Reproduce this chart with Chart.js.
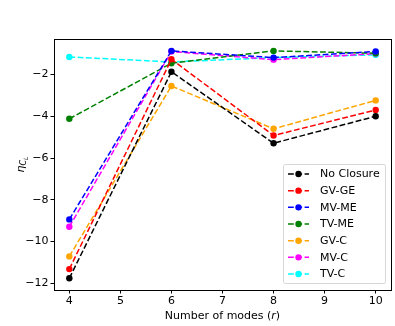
<!DOCTYPE html>
<html>
<head>
<meta charset="utf-8">
<script src="https://cdn.jsdelivr.net/npm/chart.js@4/dist/chart.umd.min.js"></script>
<style>
  html, body { margin: 0; padding: 0; background: #fff; }
  #wrap { width: 395px; height: 326px; }
</style>
</head>
<body>
<div id="wrap"><canvas id="chart" width="395" height="326"></canvas></div>
<script>
// データ
const modes = [4, 6, 8, 10];
const xTicks = [4, 5, 6, 7, 8, 9, 10];
const yTicks = [-12, -10, -8, -6, -4, -2];

const seriesNames = ['No Closure', 'GV-GE', 'MV-ME', 'TV-ME', 'GV-C', 'MV-C', 'TV-C'];
const seriesColors = ['#000000', '#ff0000', '#0000ff', '#008000', '#ffa500', '#ff00ff', '#00ffff'];

const noClosure = [-11.76, -1.87, -5.29, -4.0];
const gvGe = [-11.32, -1.27, -4.92, -3.70];
const mvMe = [-8.94, -0.87, -1.19, -0.90];
const tvMe = [-4.12, -1.46, -0.87, -0.98];
const gvC = [-10.71, -2.55, -4.60, -3.24];
const mvC = [-9.29, -0.90, -1.29, -1.00];
const tvC = [-1.16, -1.40, -1.19, -1.06];

const seriesValues = [noClosure, gvGe, mvMe, tvMe, gvC, mvC, tvC];

const FONT = 'DejaVu Sans';
const FS = 11;
const DASH = [5.8, 2.5];

/**
 * 軸ラベル・枠線・凡例を手描き
 */
const decorPlugin = {
    id: 'decor',
    afterDraw(chart) {
        const ctx = chart.ctx;
        const a = chart.chartArea;
        ctx.save();

        // 枠線
        ctx.strokeStyle = '#000';
        ctx.lineWidth = 1;
        ctx.strokeRect(Math.round(a.left) + 0.5, Math.round(a.top) + 0.5,
            Math.round(a.right - a.left), Math.round(a.bottom - a.top));

        // x軸ラベル
        ctx.fillStyle = '#000';
        ctx.textBaseline = 'alphabetic';
        const p1 = 'Number of modes (';
        const p2 = 'r';
        const p3 = ')';
        ctx.font = `${FS}px "${FONT}"`;
        const w1 = ctx.measureText(p1).width;
        const w3 = ctx.measureText(p3).width;
        ctx.font = `italic ${FS}px "${FONT}"`;
        const w2 = ctx.measureText(p2).width;
        let x = (a.left + a.right) / 2 - (w1 + w2 + w3) / 2;
        const yb = 319;
        ctx.textAlign = 'left';
        ctx.font = `${FS}px "${FONT}"`;
        ctx.fillText(p1, x, yb); x += w1;
        ctx.font = `italic ${FS}px "${FONT}"`;
        ctx.fillText(p2, x, yb); x += w2;
        ctx.font = `${FS}px "${FONT}"`;
        ctx.fillText(p3, x, yb);

        // y軸ラベル η_{C_L}
        ctx.save();
        ctx.translate(24, (a.top + a.bottom) / 2);
        ctx.rotate(-Math.PI / 2);
        ctx.font = `italic ${FS}px "${FONT}"`;
        const we = ctx.measureText('η').width;
        ctx.font = `italic 8px "${FONT}"`;
        const wc = ctx.measureText('C').width;
        ctx.font = `italic 6px "${FONT}"`;
        const wl = ctx.measureText('L').width;
        let lx = -(we + wc + wl) / 2;
        ctx.font = `italic ${FS}px "${FONT}"`;
        ctx.fillText('η', lx, 0); lx += we;
        ctx.font = `italic 8px "${FONT}"`;
        ctx.fillText('C', lx, 2); lx += wc;
        ctx.font = `italic 6px "${FONT}"`;
        ctx.fillText('L', lx, 4);
        ctx.restore();

        // 凡例
        const bx = 283.5, by = 164.5, bw = 102, bh = 119;
        ctx.fillStyle = 'rgba(255,255,255,0.8)';
        ctx.strokeStyle = '#d6d6d6';
        ctx.lineWidth = 1;
        ctx.beginPath();
        ctx.roundRect(bx, by, bw, bh, 2);
        ctx.fill();
        ctx.stroke();

        ctx.font = `${FS}px "${FONT}"`;
        ctx.textBaseline = 'middle';
        seriesNames.forEach((name, i) => {
            const cy = 174 + i * 16.67;
            ctx.strokeStyle = seriesColors[i];
            ctx.lineWidth = 1.5;
            ctx.setLineDash(DASH);
            ctx.beginPath();
            ctx.moveTo(288, cy);
            ctx.lineTo(309, cy);
            ctx.stroke();
            ctx.setLineDash([]);
            ctx.fillStyle = seriesColors[i];
            ctx.beginPath();
            ctx.arc(298.5, cy, 3.2, 0, Math.PI * 2);
            ctx.fill();
            ctx.fillStyle = '#000';
            ctx.fillText(name, 320, cy + 0.5);
        });

        ctx.restore();
    }
};

const datasets = seriesNames.map((name, i) => ({
    label: name,
    data: modes.map((m, j) => ({ x: m, y: seriesValues[i][j] })),
    borderColor: seriesColors[i],
    backgroundColor: seriesColors[i],
    borderWidth: 1.5,
    borderDash: DASH,
    pointRadius: 3.2,
    pointHoverRadius: 3.2,
    pointBorderWidth: 0,
    fill: false,
    tension: 0
}));

const ctx = document.getElementById('chart').getContext('2d');
new Chart(ctx, {
    type: 'line',
    data: { datasets: datasets },
    options: {
        responsive: false,
        animation: false,
        devicePixelRatio: 1,
        layout: { padding: { top: 39, right: 4, left: 0, bottom: 0 } },
        plugins: {
            legend: { display: false },
            tooltip: { enabled: false }
        },
        scales: {
            x: {
                type: 'linear',
                min: 3.7,
                max: 10.3,
                afterBuildTicks: axis => { axis.ticks = xTicks.map(v => ({ value: v })); },
                afterFit: axis => { axis.height = 36; },
                grid: {
                    drawOnChartArea: false,
                    drawTicks: true,
                    tickLength: 3.5,
                    tickColor: '#000'
                },
                border: { display: true, color: '#000' },
                ticks: {
                    color: '#000',
                    font: { family: FONT, size: FS },
                    padding: 1,
                    maxRotation: 0,
                    callback: v => String(v)
                }
            },
            y: {
                type: 'linear',
                min: -12.32,
                max: -0.3,
                afterBuildTicks: axis => { axis.ticks = yTicks.map(v => ({ value: v })); },
                afterFit: axis => { axis.width = 54; },
                grid: {
                    drawOnChartArea: false,
                    drawTicks: true,
                    tickLength: 3.5,
                    tickColor: '#000'
                },
                border: { display: true, color: '#000' },
                ticks: {
                    color: '#000',
                    font: { family: FONT, size: FS },
                    padding: 2,
                    callback: v => (v < 0 ? '\u2212' + Math.abs(v) : String(v))
                }
            }
        }
    },
    plugins: [decorPlugin]
});
</script>
</body>
</html>
